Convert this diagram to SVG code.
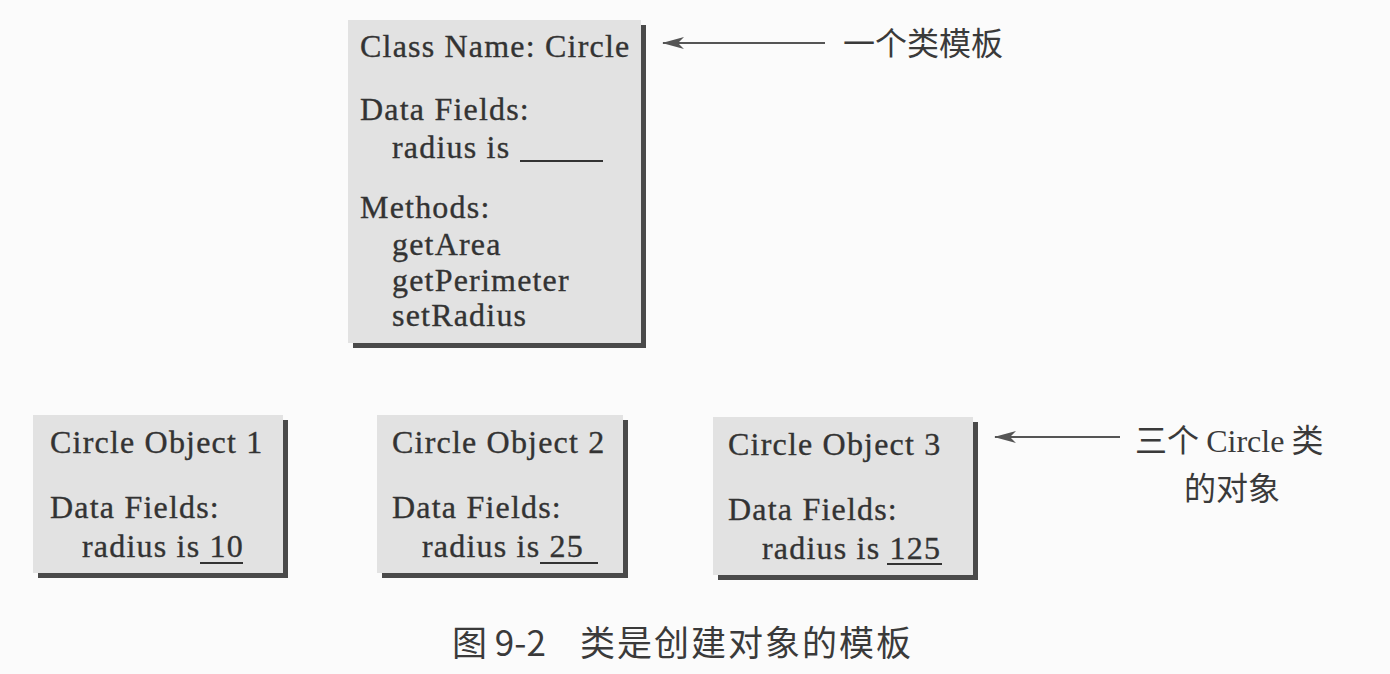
<svg xmlns="http://www.w3.org/2000/svg" width="1390" height="674" viewBox="0 0 1390 674">
<style>
.bg{fill:#fbfbfb}
.box{fill:#e2e2e2}
.shadow{fill:#4a4a4a}
.t{font-family:"Liberation Serif","Times New Roman",serif;font-size:32px;fill:#333;stroke:#333;stroke-width:0.35;letter-spacing:1.2px}
.cn{font-family:"Noto Sans CJK SC","Noto Sans",sans-serif;font-size:32px;fill:#3a3a3a}
.cap{font-size:35px}
.sp{letter-spacing:2px}
.ul{stroke:#333;stroke-width:2.2}
.conn{stroke:#555;stroke-width:2.2;fill:none}
</style>
<defs>
<marker id="ah" viewBox="0 0 22 12" refX="21" refY="6" markerWidth="22" markerHeight="12" markerUnits="userSpaceOnUse" orient="auto">
<path d="M22,6 L0,0 L6,6 L0,12 Z" fill="#555"/>
</marker>
</defs>
<rect class="bg" x="0" y="0" width="1390" height="674"/>

<g id="class-circle">
<rect class="shadow" x="353" y="25" width="293" height="323"/>
<rect class="box" x="348" y="20" width="293" height="323"/>
<text class="t" x="360" y="57">Class Name: Circle</text>
<text class="t" x="360" y="120">Data Fields:</text>
<text class="t" x="392" y="158">radius is</text>
<line class="ul" x1="520" y1="161" x2="603" y2="161"/>
<text class="t" x="360" y="218">Methods:</text>
<text class="t" x="392" y="255">getArea</text>
<text class="t" x="392" y="291">getPerimeter</text>
<text class="t" x="392" y="326">setRadius</text>
</g>

<g id="object1">
<rect class="shadow" x="38" y="420" width="250" height="158"/>
<rect class="box" x="33" y="415" width="250" height="158"/>
<text class="t" x="50" y="453">Circle Object 1</text>
<text class="t" x="50" y="518">Data Fields:</text>
<text class="t" x="82" y="557">radius is 10</text>
<line class="ul" x1="200" y1="563" x2="243" y2="563"/>
</g>

<g id="object2">
<rect class="shadow" x="382" y="420" width="246" height="158"/>
<rect class="box" x="377" y="415" width="246" height="158"/>
<text class="t" x="392" y="453">Circle Object 2</text>
<text class="t" x="392" y="518">Data Fields:</text>
<text class="t" x="422" y="557">radius is 25</text>
<line class="ul" x1="540" y1="563" x2="598" y2="563"/>
</g>

<g id="object3">
<rect class="shadow" x="718" y="422" width="260" height="158"/>
<rect class="box" x="713" y="417" width="260" height="158"/>
<text class="t" x="728" y="455">Circle Object 3</text>
<text class="t" x="728" y="520">Data Fields:</text>
<text class="t" x="762" y="559">radius is 125</text>
<line class="ul" x1="887" y1="564" x2="942" y2="564"/>
</g>

<g id="connectors">
<line class="conn" x1="825" y1="43" x2="663" y2="43" marker-end="url(#ah)"/>
<line class="conn" x1="1120" y1="437" x2="995" y2="437" marker-end="url(#ah)"/>
</g>

<g id="labels">
<text class="cn" x="843" y="55">一个类模板</text>
<text class="cn" x="1135" y="452">三个 <tspan font-family="Liberation Serif,serif" font-size="32">Circle</tspan> 类</text>
<text class="cn" x="1184" y="500">的对象</text>
<text class="cn cap" x="452" y="656">图 9-2<tspan class="sp" x="580">类是创建对象的模板</tspan></text>
</g>
</svg>
